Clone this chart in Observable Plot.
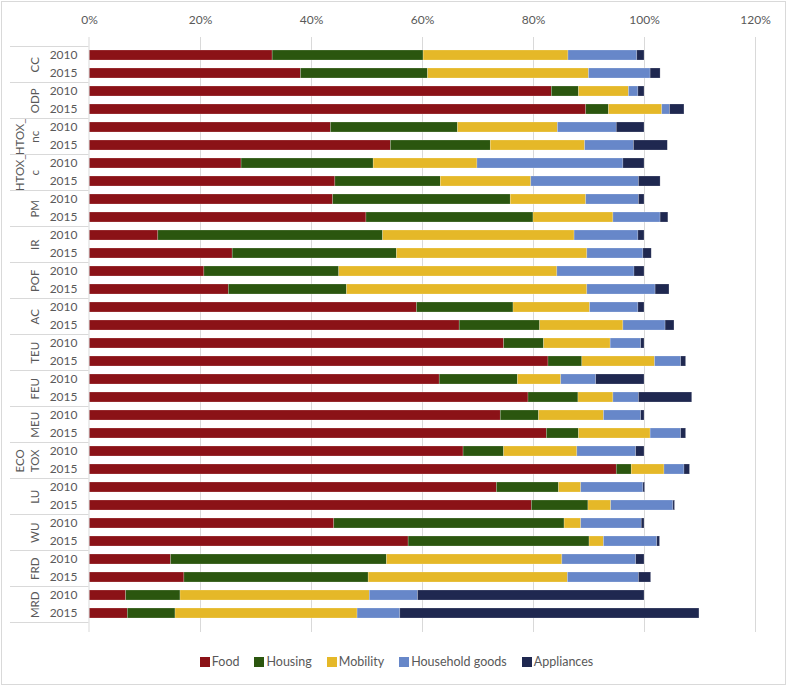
<!DOCTYPE html>
<html>
<head>
<meta charset="utf-8">
<script src="https://cdn.jsdelivr.net/npm/d3@7"></script>
<script src="https://cdn.jsdelivr.net/npm/@observablehq/plot@0.6"></script>
<style>
  html, body { margin: 0; padding: 0; background: #fff; }
  body { width: 789px; height: 687px; position: relative; overflow: hidden; font-family: Lato, "Open Sans", sans-serif; }
  #chart { position: absolute; left: 0; top: 0; }
  #border { position: absolute; left: 1px; top: 1px; width: 785px; height: 684px; border: 1.5px solid #d9d9d9; pointer-events: none; box-sizing: border-box; }
  #legend { position: absolute; left: 2px; width: 789px; top: 654px; display: flex; justify-content: center; gap: 15px; font-size: 12.5px; color: #595959; }
  #legend .item { display: flex; align-items: center; gap: 2px; }
  #legend .sw { width: 10px; height: 10px; display: inline-block; }
</style>
</head>
<body>
<div id="chart"></div>
<div id="legend"></div>
<div id="border"></div>
<script>
// ---- data ----
const categories = ["CC", "ODP", "HTOX_nc", "HTOX_c", "PM", "IR", "POF", "AC", "TEU", "FEU", "MEU", "ECOTOX", "LU", "WU", "FRD", "MRD"];
const categoryLabels = ["CC", "ODP", "HTOX_\nnc", "HTOX_\nc", "PM", "IR", "POF", "AC", "TEU", "FEU", "MEU", "ECO\nTOX", "LU", "WU", "FRD", "MRD"];
const years = ["2010", "2015"];
const sectors = ["Food", "Housing", "Mobility", "Household goods", "Appliances"];
const colors = ["#8b1217", "#2b560f", "#e5b828", "#6787c9", "#1f2850"];
const xTicks = [0, 20, 40, 60, 80, 100, 120];

// values in % : one array per sector, order = categories × years (2010, 2015)
const food = [33.0, 38.1, 83.3, 89.5, 43.5, 54.3, 27.4, 44.3, 43.9, 49.9, 12.4, 25.8, 20.7, 25.1, 59.0, 66.7,
              74.7, 82.7, 63.1, 79.1, 74.1, 82.4, 67.4, 95.0, 73.4, 79.7, 44.1, 57.5, 14.7, 17.1, 6.6, 6.9];
const housing = [27.2, 22.9, 4.9, 4.1, 22.9, 18.0, 23.8, 19.0, 32.0, 30.1, 40.5, 29.6, 24.3, 21.3, 17.4, 14.5,
                 7.2, 6.1, 14.1, 9.0, 6.9, 5.8, 7.3, 2.7, 11.2, 10.2, 41.5, 32.6, 38.9, 33.2, 9.8, 8.6];
const mobility = [26.1, 29.0, 9.0, 9.6, 18.0, 17.0, 18.7, 16.3, 13.6, 14.4, 34.5, 34.3, 39.3, 43.3, 13.8, 15.0,
                  12.0, 13.1, 7.8, 6.3, 11.7, 12.9, 13.2, 5.9, 4.0, 4.1, 3.0, 2.6, 31.6, 35.9, 34.1, 32.8];
const household = [12.4, 11.1, 1.7, 1.4, 10.6, 8.8, 26.3, 19.4, 9.5, 8.5, 11.5, 10.1, 13.9, 12.3, 8.7, 7.6,
                   5.5, 4.7, 6.3, 4.6, 6.7, 5.5, 10.6, 3.6, 11.2, 11.2, 10.9, 9.6, 13.3, 12.8, 8.7, 7.7];
const appliances = [1.3, 1.8, 1.1, 2.6, 5.0, 6.1, 3.8, 3.9, 1.0, 1.4, 1.1, 1.5, 1.8, 2.5, 1.1, 1.6,
                    0.6, 0.9, 8.7, 9.6, 0.6, 0.9, 1.5, 1.0, 0.3, 0.3, 0.5, 0.5, 1.5, 2.2, 40.8, 53.9];
const seriesValues = [food, housing, mobility, household, appliances];

// ---- build table ----
const keys = [];
categories.forEach(c => years.forEach(y => keys.push(c + "|" + y)));
const rows = [];
keys.forEach((k, i) => {
  sectors.forEach((s, j) => rows.push({key: k, sector: s, value: seriesValues[j][i]}));
});

const W = 789, H = 640, MT = 37, MB = 8, ML = 89, MR = 34;
const step = (H - MT - MB) / keys.length;
const gray = "#595959";

const plot = Plot.plot({
  width: W, height: H,
  marginTop: MT, marginBottom: MB, marginLeft: ML, marginRight: MR,
  style: {fontFamily: "Lato, 'Open Sans', sans-serif", fontSize: "12px", color: gray, background: "white"},
  x: {domain: [0, 120], axis: null, label: null},
  y: {domain: keys, paddingInner: 0.44, paddingOuter: 0.22, axis: null, label: null},
  color: {domain: sectors, range: colors},
  marks: [
    Plot.gridX(xTicks.filter(d => d > 0), {stroke: "#d9d9d9", strokeOpacity: 1, strokeWidth: 1}),
    Plot.barX(rows, Plot.stackX({
      x: "value", y: "key", fill: "sector", order: sectors,
      stroke: "white", strokeOpacity: 0.35, strokeWidth: 0.6
    })),
    Plot.ruleX([0], {stroke: "#d9d9d9", strokeWidth: 1, dx: -0.5}),
    Plot.axisX({anchor: "top", ticks: xTicks, tickSize: 0, tickPadding: 14, label: null,
      tickFormat: d => d + "%", fontSize: 12, fill: gray}),
    Plot.axisY({anchor: "left", tickSize: 0, tickPadding: 12, label: null,
      tickFormat: d => d.split("|")[1], fontSize: 12, fill: gray}),
    Plot.text(categories, {
      y: c => c + "|2010", dy: step / 2, frameAnchor: "left", dx: -51,
      text: (c, i) => categoryLabels[i], rotate: -90, lineAnchor: "bottom",
      textAnchor: "middle", fontSize: 11.5, fill: gray, lineHeight: 1.25
    })
  ]
});
document.getElementById("chart").appendChild(plot);

// separators between category groups in the label column, positioned with Plot's y scale
const ys = plot.scale("y");
const yScale = Plot.scale({y: ys});
const svg = d3.select(plot);
const outer = ys.step * 0.22;
const ypos = categories.map(c => yScale.apply(c + "|2010") - outer);
ypos.push(yScale.apply(categories[categories.length - 1] + "|2015") + ys.bandwidth + outer);
svg.append("g").selectAll("line").data(ypos).join("line")
  .attr("x1", 10).attr("x2", ML - 0.5)
  .attr("y1", d => Math.round(d) + 0.5).attr("y2", d => Math.round(d) + 0.5)
  .attr("stroke", "#d9d9d9").attr("stroke-width", 1);

// legend
const legend = d3.select("#legend");
sectors.forEach((s, i) => {
  const it = legend.append("div").attr("class", "item");
  it.append("span").attr("class", "sw").style("background", colors[i]);
  it.append("span").text(s);
});
</script>
</body>
</html>
